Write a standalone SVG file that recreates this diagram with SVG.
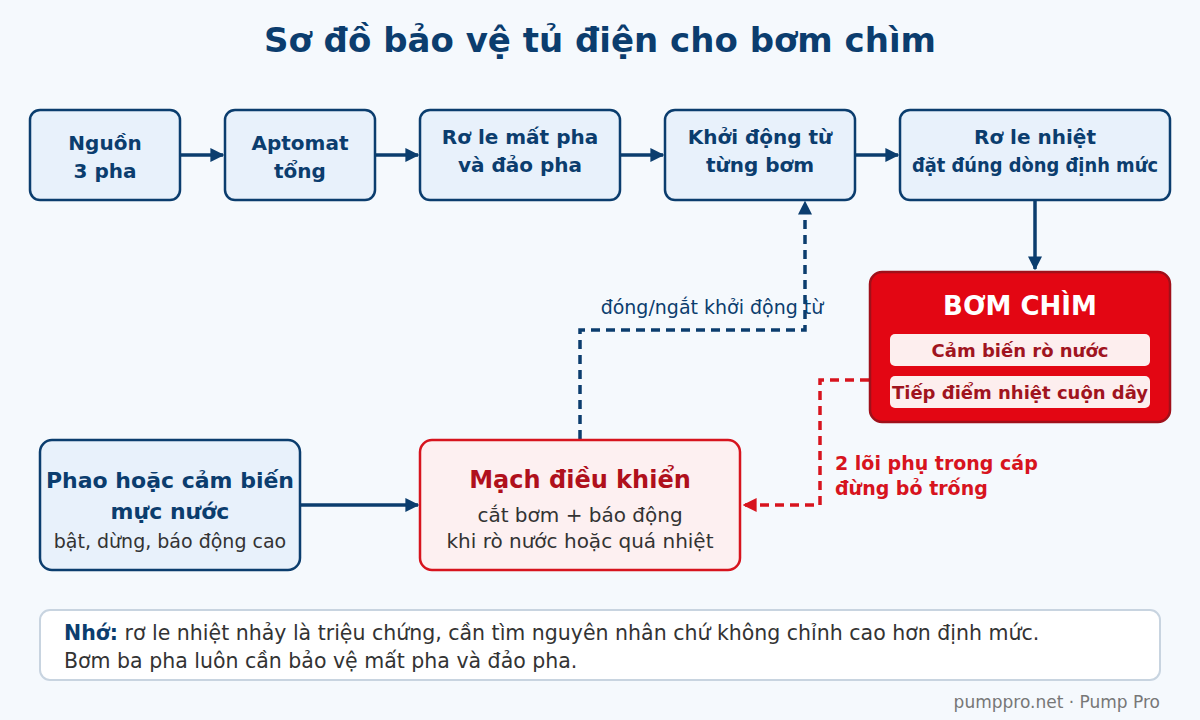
<svg xmlns="http://www.w3.org/2000/svg" width="1200" height="720" viewBox="0 0 1200 720">
<defs>
<style>
text{font-family:"DejaVu Sans","Noto Sans",sans-serif;text-anchor:middle}
.box{fill:#e8f1fb;stroke:#0b3d6e;stroke-width:2.5}
.bt{font-size:20px;font-weight:bold;fill:#0b3d6e}
.conn{stroke:#0b3d6e;stroke-width:3.5;fill:none}
.dash{stroke-dasharray:9 6}
.red{stroke:#d7141e}
</style>
<marker id="ab" viewBox="0 0 10 10" refX="9" refY="5" markerWidth="4" markerHeight="4" orient="auto"><path d="M0,0L10,5L0,10z" fill="#0b3d6e"/></marker>
<marker id="ar" viewBox="0 0 10 10" refX="9" refY="5" markerWidth="4" markerHeight="4" orient="auto"><path d="M0,0L10,5L0,10z" fill="#d7141e"/></marker>
</defs>
<rect width="1200" height="720" fill="#f5f9fd"/>
<text x="600" y="52" font-size="34" font-weight="bold" fill="#0b3d6e">Sơ đồ bảo vệ tủ điện cho bơm chìm</text>

<g id="connectors">
<line class="conn" x1="181" y1="155" x2="223" y2="155" marker-end="url(#ab)"/>
<line class="conn" x1="376" y1="155" x2="418" y2="155" marker-end="url(#ab)"/>
<line class="conn" x1="621" y1="155" x2="663" y2="155" marker-end="url(#ab)"/>
<line class="conn" x1="856" y1="155" x2="898" y2="155" marker-end="url(#ab)"/>
<line class="conn" x1="1035" y1="201" x2="1035" y2="269" marker-end="url(#ab)"/>
<line class="conn" x1="301" y1="505" x2="418" y2="505" marker-end="url(#ab)"/>
<path class="conn dash" d="M580,439V330H805V202" marker-end="url(#ab)"/>
<path class="conn dash red" d="M869,380H820V505H744" marker-end="url(#ar)"/>
<text x="712" y="314" font-size="19" fill="#0b3d6e">đóng/ngắt khởi động từ</text>
<text x="835" y="470" font-size="19" font-weight="bold" fill="#d7141e" style="text-anchor:start">2 lõi phụ trong cáp</text>
<text x="835" y="495" font-size="19" font-weight="bold" fill="#d7141e" style="text-anchor:start">đừng bỏ trống</text>
</g>

<g id="nguon"><rect class="box" x="30" y="110" width="150" height="90" rx="10"/>
<text class="bt" x="105" y="150">Nguồn</text><text class="bt" x="105" y="178">3 pha</text></g>
<g id="aptomat"><rect class="box" x="225" y="110" width="150" height="90" rx="10"/>
<text class="bt" x="300" y="150">Aptomat</text><text class="bt" x="300" y="178">tổng</text></g>
<g id="role-pha"><rect class="box" x="420" y="110" width="200" height="90" rx="10"/>
<text class="bt" x="520" y="144">Rơ le mất pha</text><text class="bt" x="520" y="172">và đảo pha</text></g>
<g id="khoi-dong-tu"><rect class="box" x="665" y="110" width="190" height="90" rx="10"/>
<text class="bt" x="760" y="144">Khởi động từ</text><text class="bt" x="760" y="172">từng bơm</text></g>
<g id="role-nhiet"><rect class="box" x="900" y="110" width="270" height="90" rx="10"/>
<text class="bt" x="1035" y="144">Rơ le nhiệt</text><text class="bt" x="1035" y="172" font-size="19" textLength="246" lengthAdjust="spacingAndGlyphs">đặt đúng dòng định mức</text></g>

<g id="bom-chim"><rect x="870" y="272" width="300" height="150" rx="12" fill="#e30613" stroke="#a0101a" stroke-width="2.5"/>
<text x="1020" y="315" font-size="26" font-weight="bold" fill="#fff">BƠM CHÌM</text>
<rect x="890" y="334" width="260" height="32" rx="5" fill="#fdeeee"/>
<text x="1020" y="357" font-size="18" font-weight="bold" fill="#a0141e">Cảm biến rò nước</text>
<rect x="890" y="376" width="260" height="32" rx="5" fill="#fdeeee"/>
<text x="1020" y="399" font-size="18" font-weight="bold" fill="#a0141e">Tiếp điểm nhiệt cuộn dây</text></g>

<g id="phao"><rect class="box" x="40" y="440" width="260" height="130" rx="12"/>
<text x="170" y="488" font-size="22" font-weight="bold" fill="#0b3d6e">Phao hoặc cảm biến</text>
<text x="170" y="519" font-size="22" font-weight="bold" fill="#0b3d6e">mực nước</text>
<text x="170" y="548" font-size="19" fill="#333">bật, dừng, báo động cao</text></g>

<g id="mach-dieu-khien"><rect x="420" y="440" width="320" height="130" rx="12" fill="#fdf0f1" stroke="#d7141e" stroke-width="2.5"/>
<text x="580" y="488" font-size="24" font-weight="bold" fill="#b0101c">Mạch điều khiển</text>
<text x="580" y="522" font-size="20" fill="#333">cắt bơm + báo động</text>
<text x="580" y="548" font-size="20" fill="#333">khi rò nước hoặc quá nhiệt</text></g>

<g id="note"><rect x="40" y="610" width="1120" height="70" rx="10" fill="#fff" stroke="#c8d4e0" stroke-width="2"/>
<text x="64" y="640" font-size="20.5" fill="#333" style="text-anchor:start"><tspan font-weight="bold" fill="#0b3d6e">Nhớ:</tspan> rơ le nhiệt nhảy là triệu chứng, cần tìm nguyên nhân chứ không chỉnh cao hơn định mức.</text>
<text x="64" y="668" font-size="20.5" fill="#333" style="text-anchor:start">Bơm ba pha luôn cần bảo vệ mất pha và đảo pha.</text></g>

<text x="1160" y="708" font-size="17" fill="#777" style="text-anchor:end">pumppro.net · Pump Pro</text>
</svg>
